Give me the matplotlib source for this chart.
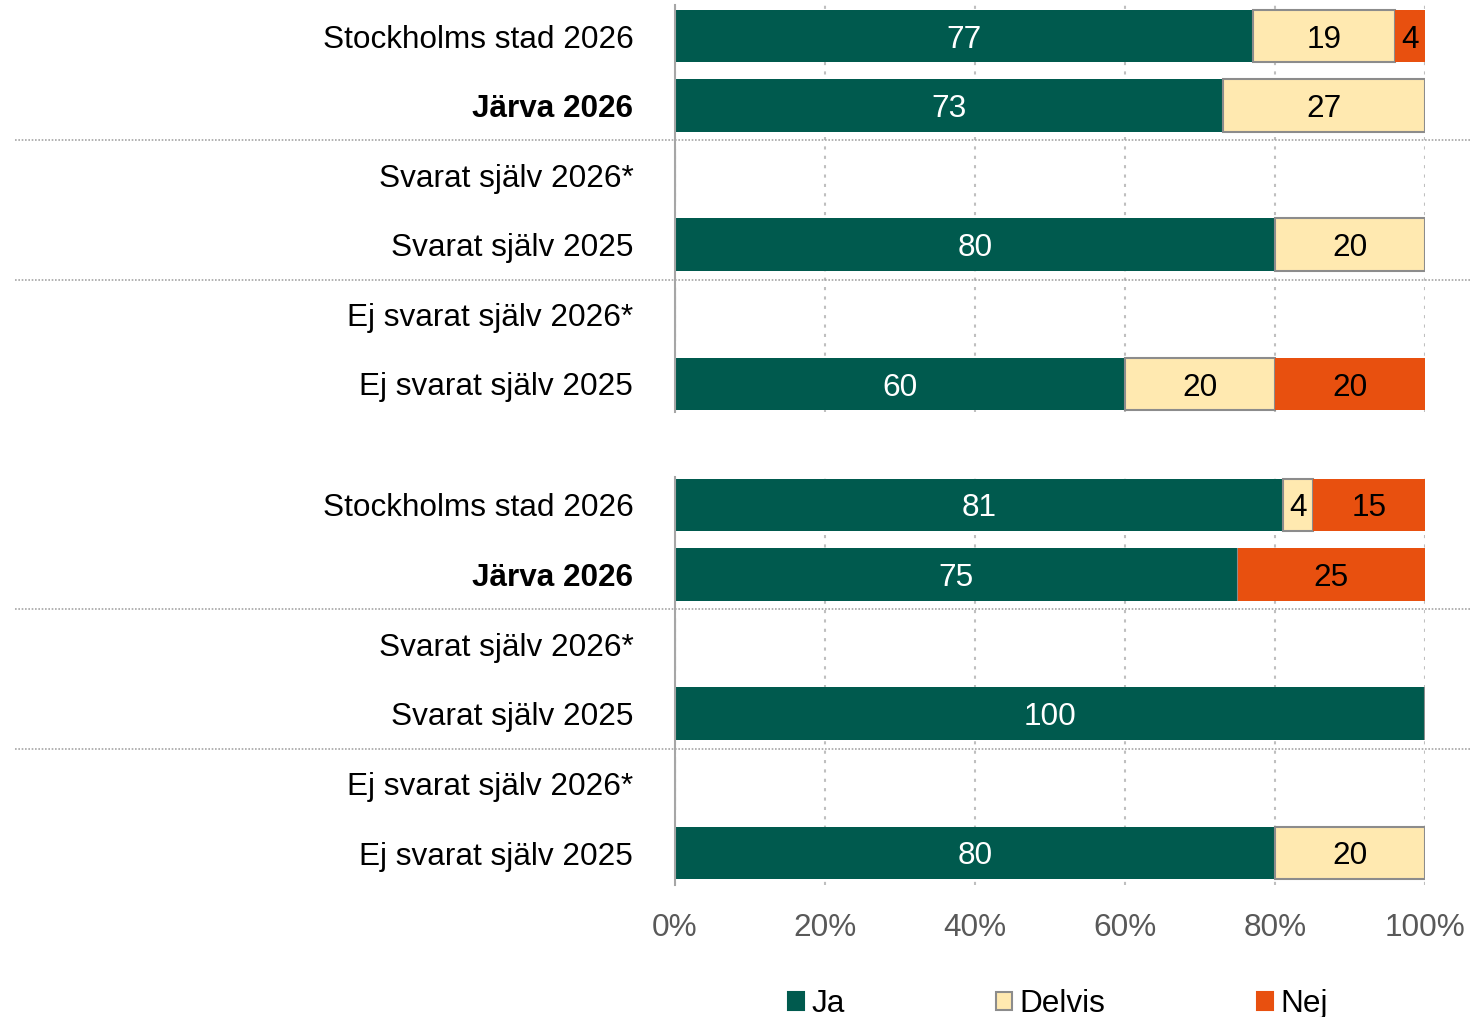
import matplotlib.pyplot as plt
import matplotlib.transforms as mtransforms
from matplotlib.patches import Patch

plt.rcParams['font.family'] = ['Liberation Sans', 'DejaVu Sans']

categories = ["Stockholms stad 2026", "Järva 2026", "Svarat själv 2026*",
              "Svarat själv 2025", "Ej svarat själv 2026*", "Ej svarat själv 2025"]
bold_rows = [1]

# övre gruppen
top_ja = [77, 73, 0, 80, 0, 60]
top_delvis = [19, 27, 0, 20, 0, 20]
top_nej = [4, 0, 0, 0, 0, 20]

# nedre gruppen
bot_ja = [81, 75, 0, 100, 0, 80]
bot_delvis = [4, 0, 0, 0, 0, 20]
bot_nej = [15, 25, 0, 0, 0, 0]

series_names = ["Ja", "Delvis", "Nej"]
colors = ["#005A4E", "#FFE9B0", "#E8500F"]
edge_colors = ["none", "#8C8C8C", "none"]
text_colors = ["white", "black", "black"]

FS = 22.7
W, H = 1471, 1017
fig = plt.figure(figsize=(W / 100, H / 100), dpi=100)

x0, x1 = 675, 1425
row_h = 69.6


def make_axes(top_px, bottom_px, first_center):
    ax = fig.add_axes([x0 / W, 1 - bottom_px / H, (x1 - x0) / W, (bottom_px - top_px) / H])
    ax.set_ylim((bottom_px - first_center) / row_h, (top_px - first_center) / row_h)
    return ax


def draw_group(ax, ja, delvis, nej, show_xticks):
    ys = list(range(len(categories)))
    left = [0] * len(categories)
    for vals, name, c, ec, tc in zip([ja, delvis, nej], series_names, colors, edge_colors, text_colors):
        ax.barh(ys, vals, left=left, height=0.76, color=c, edgecolor=ec,
                linewidth=1.5, zorder=3)
        for y, v, l in zip(ys, vals, left):
            if v > 0:
                ax.text(l + v / 2, y, str(v), ha="center", va="center_baseline",
                        color=tc, fontsize=FS, zorder=4)
        left = [l + v for l, v in zip(left, vals)]

    ax.set_xlim(0, 100)
    ax.set_yticks(ys)
    ax.set_yticklabels(categories, fontsize=FS)
    for i, lab in enumerate(ax.get_yticklabels()):
        lab.set_va("center_baseline")
        if i in bold_rows:
            lab.set_fontweight("bold")
    ax.tick_params(axis="y", length=0, pad=30)
    ax.set_xticks([0, 20, 40, 60, 80, 100])
    if show_xticks:
        ax.set_xticklabels(["0%", "20%", "40%", "60%", "80%", "100%"],
                           fontsize=FS, color="#595959")
        ax.tick_params(axis="x", length=0, pad=20)
    else:
        ax.tick_params(axis="x", length=0, labelbottom=False)

    ax.grid(axis="x", color="#BFBFBF", linestyle=(0, (1.5, 3)), linewidth=1.5, zorder=0)
    for s in ["top", "right", "bottom"]:
        ax.spines[s].set_visible(False)
    ax.spines["left"].set_color("#A6A6A6")
    ax.spines["left"].set_linewidth(1.5)
    ax.spines["left"].set_zorder(5)

    # separatorlinjer mellan undergrupperna
    trans = mtransforms.blended_transform_factory(ax.transAxes, ax.transData)
    for yy in [1.5, 3.5]:
        ax.plot([(15 - x0) / (x1 - x0), (W - x0) / (x1 - x0)], [yy, yy],
                transform=trans, color="#A6A6A6", linestyle=(0, (1, 1)),
                linewidth=1.2, clip_on=False, zorder=2)


ax_top = make_axes(5, 412, 36)
draw_group(ax_top, top_ja, top_delvis, top_nej, False)

ax_bot = make_axes(477, 885, 505)
draw_group(ax_bot, bot_ja, bot_delvis, bot_nej, True)

handles = [Patch(facecolor=c, edgecolor=ec if ec != "none" else c, linewidth=1.5)
           for c, ec in zip(colors, edge_colors)]
fig.legend(handles, series_names, loc="center", bbox_to_anchor=(1058 / W, 1 - 1004 / H),
           ncol=3, frameon=False, fontsize=FS, handlelength=0.5, handleheight=0.5,
           handletextpad=0.25, columnspacing=4.8)

fig.savefig("out.png", dpi=100)
